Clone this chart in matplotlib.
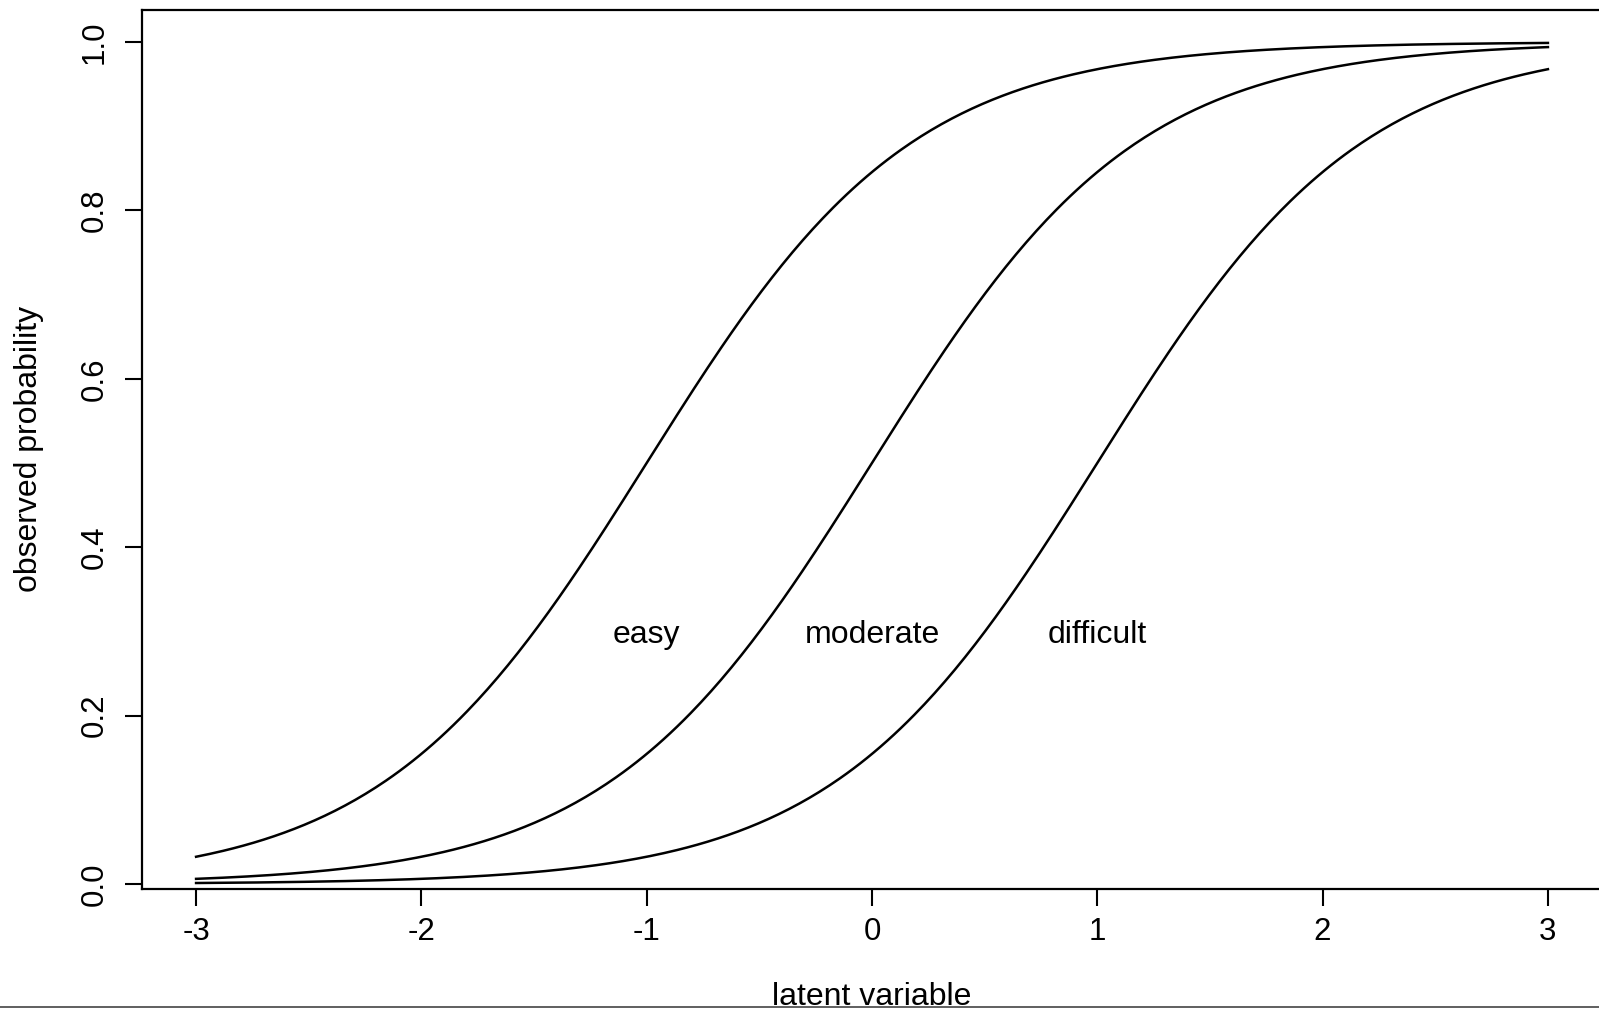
import numpy as np
import matplotlib
matplotlib.use('Agg')
import matplotlib.pyplot as plt
from matplotlib.lines import Line2D
from matplotlib.transforms import blended_transform_factory

# item characteristic curves (logistic model, D = 1.7)
items = ['easy', 'moderate', 'difficult']
difficulty = [-1.0, 0.0, 1.0]
discrimination = 1.7
label_x = [-1.0, 0.0, 1.0]
label_y = 0.3
x_ticks = [-3, -2, -1, 0, 1, 2, 3]
y_ticks = [0.0, 0.2, 0.4, 0.6, 0.8, 1.0]

plt.rcParams['font.family'] = ['Liberation Sans', 'DejaVu Sans']

W, H = 1599, 1011
fig = plt.figure(figsize=(W / 100, H / 100), dpi=100)
# box edges in pixels (right edge runs just past the canvas)
left, right, top, bottom = 142, 1602, 10, 889
ax = fig.add_axes([left / W, (H - bottom) / H, (right - left) / W, (bottom - top) / H])

theta = np.linspace(-3, 3, 400)
for b in difficulty:
    p = 1 / (1 + np.exp(-discrimination * (theta - b)))
    ax.plot(theta, p, color='black', lw=1.8)

for name, lx in zip(items, label_x):
    ax.text(lx, label_y, name, ha='center', va='center_baseline', fontsize=23)

ax.set_xlim(-3.24, 3.24)
ax.set_ylim(-0.006, 1.038)
ax.set_xticks(x_ticks)
ax.set_xticklabels([str(t) for t in x_ticks])
ax.set_yticks(y_ticks)
ax.set_yticklabels(['%.1f' % t for t in y_ticks], rotation=90, va='center')
ax.tick_params(axis='both', direction='out', length=12.5, width=1.5, labelsize=22.5)
ax.tick_params(axis='x', pad=8)
ax.tick_params(axis='y', pad=11)
for s in ax.spines.values():
    s.set_linewidth(1.6)

# axis titles
tr = blended_transform_factory(ax.transData, fig.transFigure)
ax.text(0, (H - 1005) / H, 'latent variable', transform=tr, ha='center',
        va='baseline', fontsize=23)
fig.text(29 / W, (H - 449) / H, 'observed probability', rotation=90,
         ha='center', va='center', fontsize=23)

# rule along the lower edge
fig.add_artist(Line2D([0, 1], [(H - 1007) / H] * 2, transform=fig.transFigure,
                      color='#444444', lw=1.2))

fig.savefig('out.png', dpi=100)
